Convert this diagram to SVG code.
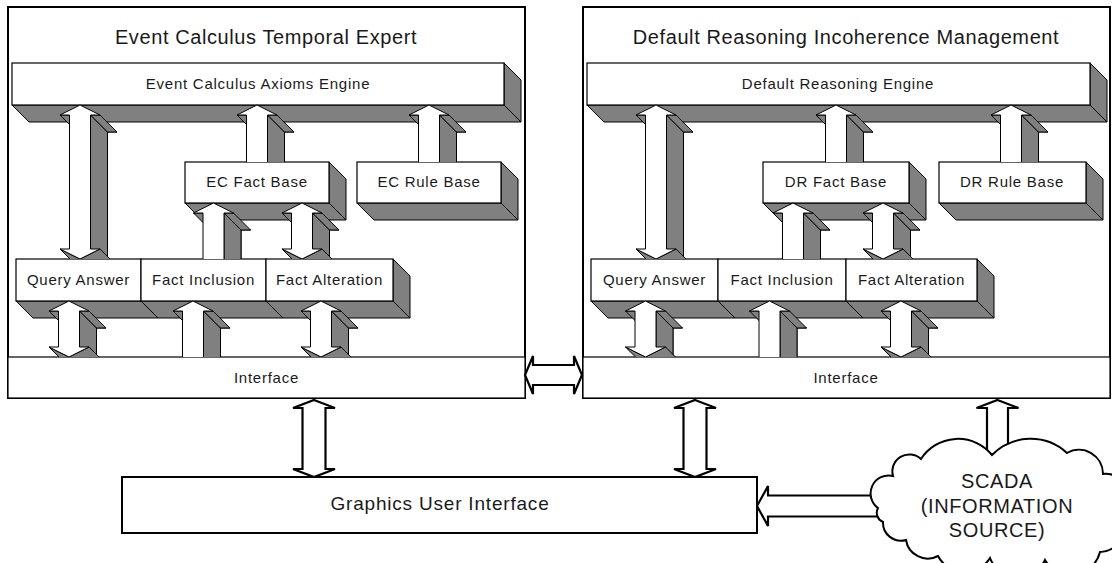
<svg xmlns="http://www.w3.org/2000/svg" xmlns:xlink="http://www.w3.org/1999/xlink" width="1112" height="563" viewBox="0 0 1112 563">
<style>
.ob{fill:#fff;stroke:#000;stroke-width:2}
.fr{fill:#fff;stroke:#000;stroke-width:1.2}
.sh{fill:#808080;stroke:#000;stroke-width:1}
.fa{fill:#fff;stroke:#000;stroke-width:1}
.flat{fill:#fff;stroke:#000;stroke-width:2.2}
.ln{stroke:#000;stroke-width:1.2}
text{font-family:"Liberation Sans",Arial,sans-serif;fill:#1a1a1a;text-anchor:middle}
.t20{font-size:20px;letter-spacing:0.6px}
.t19{font-size:19px;letter-spacing:0.8px}
.t15{font-size:15px;letter-spacing:0.75px}
</style>
<defs>
<clipPath id="k162"><rect x="0" y="0" width="1112" height="162"/></clipPath>
<clipPath id="k259"><rect x="0" y="0" width="1112" height="259"/></clipPath>
<clipPath id="k357"><rect x="0" y="0" width="1112" height="357"/></clipPath>
<g id="up3d">
<path class="sh" d="M17,17 L37,27 L27.5,27 L27.5,157 L6.5,157 L6.5,27 L-3,27 Z"/>
<path class="sh" d="M-20,10 L-10.5,10 L6.5,27 L-3,27 Z"/>
<path class="sh" d="M10.5,10 L27.5,27 L27.5,157 L10.5,140 Z"/>
<path class="sh" d="M20,10 L37,27 L27.5,27 L10.5,10 Z"/>
<path class="fa" d="M0,0 L20,10 L10.5,10 L10.5,140 L-10.5,140 L-10.5,10 L-20,10 Z"/>
</g>
<g id="d56">
<path class="sh" d="M17,17 L37,27 L27.5,27 L27.5,63 L37,63 L17,73 L-3,63 L6.5,63 L6.5,27 L-3,27 Z"/>
<path class="sh" d="M-20,10 L-10.5,10 L6.5,27 L-3,27 Z"/>
<path class="sh" d="M0,56 L17,73 L-3,63 L-20,46 Z"/>
<path class="sh" d="M10.5,10 L27.5,27 L27.5,63 L10.5,46 Z"/>
<path class="sh" d="M20,46 L37,63 L17,73 L0,56 Z"/>
<path class="sh" d="M20,10 L37,27 L27.5,27 L10.5,10 Z"/>
<path class="fa" d="M0,0 L20,10 L10.5,10 L10.5,46 L20,46 L0,56 L-20,46 L-10.5,46 L-10.5,10 L-20,10 Z"/>
</g>
<g id="d154">
<path class="sh" d="M17,17 L37,27 L27.5,27 L27.5,161 L37,161 L17,171 L-3,161 L6.5,161 L6.5,27 L-3,27 Z"/>
<path class="sh" d="M-20,10 L-10.5,10 L6.5,27 L-3,27 Z"/>
<path class="sh" d="M0,154 L17,171 L-3,161 L-20,144 Z"/>
<path class="sh" d="M10.5,10 L27.5,27 L27.5,161 L10.5,144 Z"/>
<path class="sh" d="M20,144 L37,161 L17,171 L0,154 Z"/>
<path class="sh" d="M20,10 L37,27 L27.5,27 L10.5,10 Z"/>
<path class="fa" d="M0,0 L20,10 L10.5,10 L10.5,144 L20,144 L0,154 L-20,144 L-10.5,144 L-10.5,10 L-20,10 Z"/>
</g>
</defs>

<g id="ec-panel">
<rect class="ob" x="8" y="7" width="517" height="391"/>
<text class="t20" x="266" y="44">Event Calculus Temporal Expert</text>
</g>
<g id="ec-engine">
<path class="sh" d="M504,63 L521,80 L521,122 L504,105 Z"/>
<path class="sh" d="M12,105 L504,105 L521,122 L29,122 Z"/>
<rect class="fr" x="12" y="63" width="492" height="42"/>
<text class="t15" x="258" y="89">Event Calculus Axioms Engine</text>
</g>
<g id="ec-fact-base">
<path class="sh" d="M329,162 L346,179 L346,220 L329,203 Z"/>
<path class="sh" d="M185,203 L329,203 L346,220 L202,220 Z"/>
<rect class="fr" x="185" y="162" width="144" height="41"/>
<text class="t15" x="257" y="187">EC Fact Base</text>
</g>
<g id="ec-rule-base">
<path class="sh" d="M501,162 L518,179 L518,220 L501,203 Z"/>
<path class="sh" d="M357,203 L501,203 L518,220 L374,220 Z"/>
<rect class="fr" x="357" y="162" width="144" height="41"/>
<text class="t15" x="429" y="187">EC Rule Base</text>
</g>
<g id="ec-query-answer">
<path class="sh" d="M141,259 L158,276 L158,318 L141,301 Z"/>
<path class="sh" d="M16,301 L141,301 L158,318 L33,318 Z"/>
<rect class="fr" x="16" y="259" width="125" height="42"/>
<text class="t15" x="78.5" y="285">Query Answer</text>
</g>
<g id="ec-fact-inclusion">
<path class="sh" d="M266,259 L283,276 L283,318 L266,301 Z"/>
<path class="sh" d="M141,301 L266,301 L283,318 L158,318 Z"/>
<rect class="fr" x="141" y="259" width="125" height="42"/>
<text class="t15" x="203.5" y="285">Fact Inclusion</text>
</g>
<g id="ec-fact-alteration">
<path class="sh" d="M393,259 L410,276 L410,318 L393,301 Z"/>
<path class="sh" d="M266,301 L393,301 L410,318 L283,318 Z"/>
<rect class="fr" x="266" y="259" width="127" height="42"/>
<text class="t15" x="329.5" y="285">Fact Alteration</text>
</g>
<g id="ec-interface">
<rect class="fr" x="8" y="357" width="517" height="41"/>
<text class="t15" x="266.5" y="383">Interface</text>
</g>

<g id="dr-panel">
<rect class="ob" x="583" y="7" width="527" height="391"/>
<text class="t20" x="846" y="44">Default Reasoning Incoherence Management</text>
</g>
<g id="dr-engine">
<path class="sh" d="M1090,63 L1107,80 L1107,122 L1090,105 Z"/>
<path class="sh" d="M587,105 L1090,105 L1107,122 L604,122 Z"/>
<rect class="fr" x="587" y="63" width="503" height="42"/>
<text class="t15" x="838" y="89">Default Reasoning Engine</text>
</g>
<g id="dr-fact-base">
<path class="sh" d="M909,162 L926,179 L926,220 L909,203 Z"/>
<path class="sh" d="M763,203 L909,203 L926,220 L780,220 Z"/>
<rect class="fr" x="763" y="162" width="146" height="41"/>
<text class="t15" x="836" y="187">DR Fact Base</text>
</g>
<g id="dr-rule-base">
<path class="sh" d="M1086,162 L1103,179 L1103,220 L1086,203 Z"/>
<path class="sh" d="M939,203 L1086,203 L1103,220 L956,220 Z"/>
<rect class="fr" x="939" y="162" width="147" height="41"/>
<text class="t15" x="1012" y="187">DR Rule Base</text>
</g>
<g id="dr-query-answer">
<path class="sh" d="M718,259 L735,276 L735,318 L718,301 Z"/>
<path class="sh" d="M591,301 L718,301 L735,318 L608,318 Z"/>
<rect class="fr" x="591" y="259" width="127" height="42"/>
<text class="t15" x="654.5" y="285">Query Answer</text>
</g>
<g id="dr-fact-inclusion">
<path class="sh" d="M846,259 L863,276 L863,318 L846,301 Z"/>
<path class="sh" d="M718,301 L846,301 L863,318 L735,318 Z"/>
<rect class="fr" x="718" y="259" width="128" height="42"/>
<text class="t15" x="782" y="285">Fact Inclusion</text>
</g>
<g id="dr-fact-alteration">
<path class="sh" d="M977,259 L994,276 L994,318 L977,301 Z"/>
<path class="sh" d="M846,301 L977,301 L994,318 L863,318 Z"/>
<rect class="fr" x="846" y="259" width="131" height="42"/>
<text class="t15" x="911.5" y="285">Fact Alteration</text>
</g>
<g id="dr-interface">
<rect class="fr" x="583" y="357" width="527" height="41"/>
<text class="t15" x="846" y="383">Interface</text>
</g>

<g id="connectors">
<g clip-path="url(#k162)">
<use xlink:href="#up3d" x="257" y="105"/>
<use xlink:href="#up3d" x="429" y="105"/>
<use xlink:href="#up3d" x="836" y="105"/>
<use xlink:href="#up3d" x="1011" y="105"/>
</g>
<g clip-path="url(#k259)">
<use xlink:href="#d154" x="80" y="105"/>
<use xlink:href="#up3d" x="213.5" y="203"/>
<use xlink:href="#d56" x="302" y="203"/>
<use xlink:href="#d154" x="656" y="105"/>
<use xlink:href="#up3d" x="793" y="203"/>
<use xlink:href="#d56" x="883" y="203"/>
</g>
<g clip-path="url(#k357)">
<use xlink:href="#d56" x="69" y="301"/>
<use xlink:href="#up3d" x="193" y="301"/>
<use xlink:href="#d56" x="321" y="301"/>
<use xlink:href="#d56" x="645.5" y="301"/>
<use xlink:href="#up3d" x="769.5" y="301"/>
<use xlink:href="#d56" x="901" y="301"/>
</g>
<path class="flat" d="M525,375 L533,356 L533,365 L574,365 L574,356 L582,375 L574,394 L574,385 L533,385 L533,394 Z"/>
<path class="flat" d="M314,400 L335,408 L325.5,408 L325.5,469 L335,469 L314,477 L293,469 L302.5,469 L302.5,408 L293,408 Z"/>
<path class="flat" d="M695,400 L716,408 L706.5,408 L706.5,469 L716,469 L695,477 L674,469 L683.5,469 L683.5,408 L674,408 Z"/>
<path class="flat" d="M997.5,400 L1018.5,408 L1008,408 L1008,470 L987,470 L987,408 L976.5,408 Z"/>
<path class="flat" d="M757,506 L768,486 L768,495.5 L900,495.5 L900,516.5 L768,516.5 L768,526 Z"/>
</g>

<g id="gui">
<rect class="ob" x="122" y="477" width="635" height="56"/>
<text class="t19" x="440" y="510">Graphics User Interface</text>
</g>
<g id="scada">
<path class="ob" d="M878,508 A18,18 0 0 1 893,476 A17,17 0 0 1 921,459 A44,44 0 0 1 992,455 A54,54 0 0 1 1067,453 A24,24 0 0 1 1103,474 A26,26 0 0 1 1122,520 A24,24 0 0 1 1100,552 A30,30 0 0 1 1045,560 A30,30 0 0 1 990,558 A30,30 0 0 1 938,556 A22,22 0 0 1 906,540 A18,18 0 0 1 883,522 A10,10 0 0 1 878,508 Z"/>
<text class="t20" x="997" y="488">SCADA</text>
<text class="t20" x="997" y="513">(INFORMATION</text>
<text class="t20" x="997" y="537">SOURCE)</text>
</g>
</svg>
